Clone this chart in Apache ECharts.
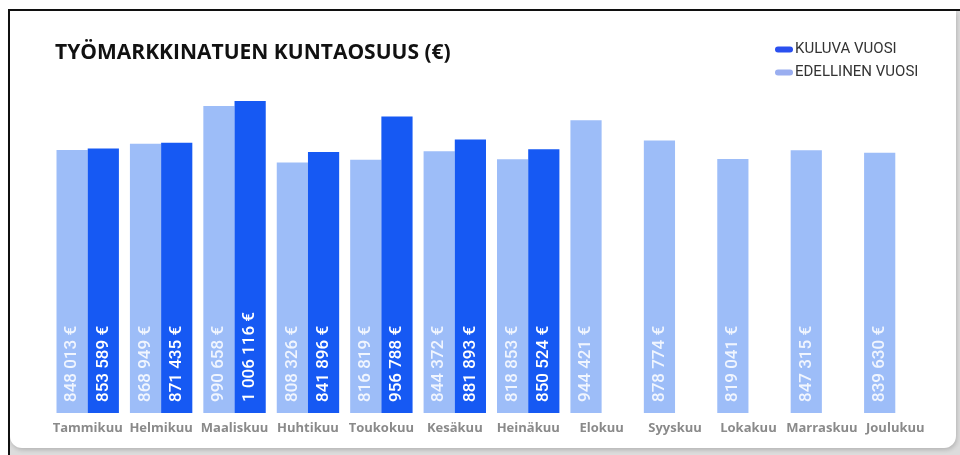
<!DOCTYPE html>
<html>
<head>
<meta charset="utf-8">
<script src="https://cdn.jsdelivr.net/npm/echarts@6/dist/echarts.min.js"></script>
<style>
  html, body { margin: 0; padding: 0; background: #fff; }
  .frame {
    position: absolute; left: 8px; top: 9px; width: 950px; height: 446px;
    border-left: 2px solid #111; border-top: 2px solid #111;
    background: #dcdcdc;
  }
  .card {
    position: absolute; left: 0; top: 0; width: 946px; height: 437px;
    background: #fff; border-radius: 0 0 12px 12px;
    box-shadow: 1px 2px 4px rgba(0,0,0,0.18);
  }
  #chart { position: absolute; left: 0; top: 0; width: 960px; height: 455px; }
</style>
</head>
<body>
<div class="frame"><div class="card"></div></div>
<div id="chart"></div>
<script>
// kuukaudet
var months = ["Tammikuu", "Helmikuu", "Maaliskuu", "Huhtikuu", "Toukokuu", "Kesäkuu",
  "Heinäkuu", "Elokuu", "Syyskuu", "Lokakuu", "Marraskuu", "Joulukuu"];
// edellinen vuosi (€)
var previousYear = [848013, 868949, 990658, 808326, 816819, 844372,
  818853, 944421, 878774, 819041, 847315, 839630];
// kuluva vuosi (€), loput kuukaudet puuttuu
var currentYear = [853589, 871435, 1006116, 841896, 956788, 881893,
  850524, null, null, null, null, null];

function euro(v) {
  return String(v).replace(/\B(?=(\d{3})+(?!\d))/g, " ") + " €";
}

// pyöreä "pilleri" legendaan
var pill = "path://M3,0 H15 A3,3 0 0 1 15,6 H3 A3,3 0 0 1 3,0 Z";

var chart = echarts.init(document.getElementById("chart"));
chart.setOption({
  backgroundColor: "transparent",
  animation: false,
  title: {
    text: "TYÖMARKKINATUEN KUNTAOSUUS (€)",
    left: 50, top: 38,
    textStyle: { fontFamily: "Open Sans", fontWeight: 700, fontSize: 21, color: "#111" }
  },
  legend: {
    orient: "vertical", left: 770, top: 37,
    itemWidth: 18, itemHeight: 6, itemGap: 8,
    data: [
      { name: "KULUVA VUOSI", icon: pill, itemStyle: { color: "#2a50ef" } },
      { name: "EDELLINEN VUOSI", icon: pill, itemStyle: { color: "#9aaef0" } }
    ],
    textStyle: { fontFamily: "Roboto", fontSize: 15, color: "#333", padding: [0, 0, 0, -3] }
  },
  grid: { left: 51, right: 28, top: 72, bottom: 42 },
  xAxis: {
    type: "category",
    data: months,
    axisLine: { show: false },
    axisTick: { show: false },
    axisLabel: { interval: 0, margin: 9, color: "#8a8a8a", fontFamily: "Open Sans",
      fontWeight: 700, fontSize: 13 }
  },
  yAxis: { type: "value", min: 0, max: 1100000, show: false, splitLine: { show: false } },
  series: [
    {
      name: "EDELLINEN VUOSI",
      type: "bar",
      data: previousYear,
      barGap: "0%",
      barCategoryGap: "15%",
      itemStyle: { color: "#9dbdf8" },
      label: {
        show: true, position: "insideBottom", rotate: 90, align: "left", verticalAlign: "middle",
        distance: 11, formatter: function (p) { return euro(p.value); },
        fontFamily: "Roboto", fontWeight: 500, fontSize: 17, color: "rgba(255,255,255,0.85)"
      }
    },
    {
      name: "KULUVA VUOSI",
      type: "bar",
      data: currentYear,
      itemStyle: { color: "#1659f3" },
      label: {
        show: true, position: "insideBottom", rotate: 90, align: "left", verticalAlign: "middle",
        distance: 11, formatter: function (p) { return euro(p.value); },
        fontFamily: "Roboto", fontWeight: 500, fontSize: 17, color: "#fff"
      }
    }
  ]
});
</script>
</body>
</html>
